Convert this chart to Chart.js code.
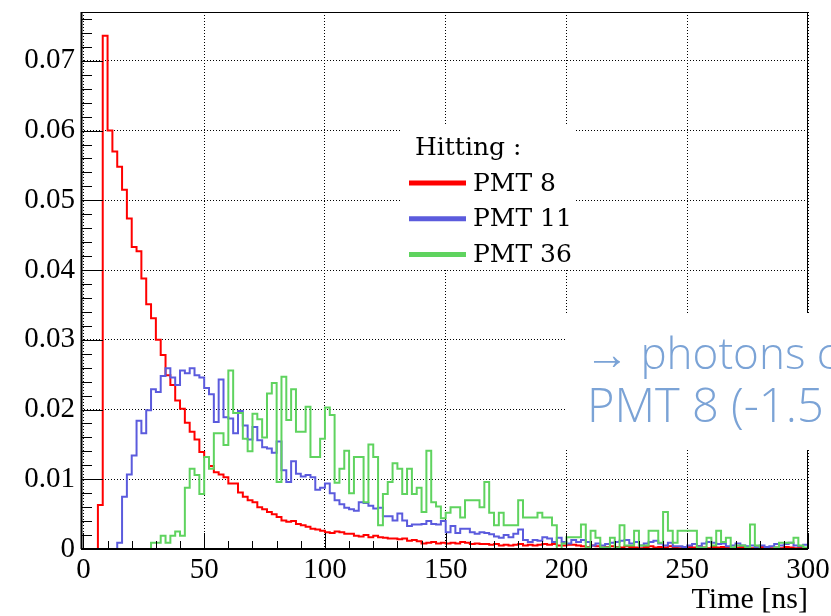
<!DOCTYPE html>
<html>
<head>
<meta charset="utf-8">
<script src="https://cdn.jsdelivr.net/npm/chart.js@4.4.1/dist/chart.umd.min.js"></script>
<style>
    html, body { margin: 0; padding: 0; background: #fff; }
    #wrap { position: relative; width: 831px; height: 616px; }
</style>
</head>
<body>
<div id="wrap"><canvas id="chart"></canvas></div>
<script>
// histogram bins: 2 ns wide, starting at 0 ns
const binWidth = 2;

const pmt8 = [
    0, 0, 0, 0.0063, 0.0736, 0.0600, 0.0570, 0.0548, 0.0515, 0.0474,
    0.0433, 0.0427, 0.0388, 0.0351, 0.0331, 0.0300, 0.0278, 0.0249, 0.0235, 0.0213,
    0.0201, 0.0181, 0.0168, 0.0157, 0.0139, 0.0132, 0.0119, 0.0110, 0.0107, 0.0103,
    0.0094, 0.0094, 0.0081, 0.0075, 0.0070, 0.0067, 0.0060, 0.0057, 0.0053, 0.0050,
    0.0046, 0.0041, 0.0039, 0.0040, 0.0036, 0.0034, 0.0032, 0.0029, 0.0028, 0.0026,
    0.0024, 0.0023, 0.0025, 0.0024, 0.0022, 0.0022, 0.0019, 0.0018, 0.0020, 0.0017,
    0.0019, 0.0017, 0.0016, 0.0015, 0.0015, 0.0014, 0.0015, 0.0012, 0.0013, 0.0011,
    0.0008, 0.0009, 0.0010, 0.0008, 0.0009, 0.0008, 0.0009, 0.0008, 0.0010, 0.0009,
    0.0007, 0.0008, 0.0007, 0.0007, 0.0006, 0.0007, 0.0005, 0.0006, 0.0005, 0.0006,
    0.0007, 0.0005, 0.0006, 0.0005, 0.0006, 0.0007, 0.0006, 0.0007, 0.0005, 0.0005,
    0.0006, 0.0006, 0.0005, 0.0004, 0.0003, 0.0005, 0.0004, 0.0002, 0.0003, 0.0004,
    0.0003, 0.0002, 0.0004, 0.0003, 0.0002, 0.0001, 0.0003, 0.0004, 0.0002, 0.0003,
    0.0002, 0.0004, 0.0003, 0.0001, 0.0002, 0.0003, 0.0002, 0.0004, 0.0002, 0.0001,
    0.0003, 0.0002, 0.0003, 0.0002, 0.0001, 0.0002, 0.0003, 0.0002, 0.0001, 0.0002,
    0.0003, 0.0002, 0.0001, 0.0002, 0.0001, 0.0003, 0.0002, 0.0001, 0.0002, 0.0001
];

const pmt11 = [
    0, 0, 0, 0, 0, 0, 0, 0.0009, 0.0075, 0.0107,
    0.0134, 0.0184, 0.0166, 0.0199, 0.0229, 0.0225, 0.0248, 0.0259, 0.0246, 0.0235,
    0.0256, 0.0252, 0.0259, 0.0249, 0.0246, 0.0231, 0.0222, 0.0182, 0.0243, 0.0189,
    0.0187, 0.0166, 0.0198, 0.0177, 0.0157, 0.0175, 0.0156, 0.0146, 0.0144, 0.0138,
    0.0154, 0.0113, 0.0096, 0.0126, 0.0108, 0.0104, 0.0106, 0.0103, 0.0085, 0.0088,
    0.0094, 0.0080, 0.0070, 0.0064, 0.0059, 0.0057, 0.0055, 0.0067, 0.0066, 0.0062,
    0.0058, 0.0059, 0.0047, 0.0047, 0.0041, 0.0051, 0.0041, 0.0033, 0.0035, 0.0035,
    0.0036, 0.0040, 0.0036, 0.0035, 0.0040, 0.0024, 0.0033, 0.0023, 0.0029, 0.0029,
    0.0024, 0.0022, 0.0024, 0.0023, 0.0021, 0.0018, 0.0016, 0.0020, 0.0017, 0.0022,
    0.0028, 0.0013, 0.0010, 0.0013, 0.0012, 0.0017, 0.0015, 0.0010, 0.0016, 0.0010,
    0.0008, 0.0013, 0.0010, 0.0013, 0.0010, 0.0005, 0.0008, 0.0005, 0.0007, 0.0009,
    0.0010, 0.0012, 0.0013, 0.0008, 0.0010, 0.0005, 0.0008, 0.0010, 0.0012, 0.0008,
    0.0005, 0.0009, 0.0004, 0.0004, 0.0003, 0.0005, 0.0007, 0.0004, 0.0008, 0.0010,
    0.0009, 0.0007, 0.0008, 0.0004, 0.0005, 0.0008, 0.0005, 0.0004, 0.0005, 0.0002,
    0.0005, 0.0003, 0.0004, 0.0007, 0.0005, 0.0007, 0.0009, 0.0005, 0.0004, 0.0006
];

const pmt36 = [
    0, 0, 0, 0, 0, 0, 0, 0, 0, 0,
    0, 0, 0, 0, 0.0009, 0.0009, 0.0019, 0.0009, 0.0019, 0.0025,
    0.0019, 0.0088, 0.0115, 0.0106, 0.0079, 0.0132, 0.0115, 0.0166, 0.0166, 0.0149,
    0.0256, 0.0195, 0.0195, 0.0158, 0.0140, 0.0194, 0.0186, 0.0160, 0.0223, 0.0238,
    0.0096, 0.0247, 0.0185, 0.0229, 0.0168, 0.0168, 0.0204, 0.0132, 0.0132, 0.0158,
    0.0203, 0.0192, 0.0095, 0.0115, 0.0141, 0.0080, 0.0132, 0.0132, 0.0067, 0.0150,
    0.0132, 0.0034, 0.0079, 0.0096, 0.0123, 0.0115, 0.0079, 0.0115, 0.0079, 0.0088,
    0.0053, 0.0141, 0.0067, 0.0061, 0.0044, 0.0052, 0.0060, 0.0060, 0.0045, 0.0070,
    0.0070, 0.0070, 0.0060, 0.0096, 0.0052, 0.0034, 0.0052, 0.0034, 0.0034, 0.0034,
    0.0070, 0.0045, 0.0045, 0.0045, 0.0052, 0.0045, 0.0045, 0.0034, 0, 0.0008,
    0.0017, 0.0017, 0.0017, 0.0035, 0.0002, 0.0026, 0.0016, 0.0002, 0.0002, 0.0016,
    0.0002, 0.0034, 0.0005, 0.0005, 0.0026, 0.0005, 0.0005, 0.0026, 0.0026, 0.0009,
    0.0053, 0.0026, 0.0009, 0.0026, 0.0026, 0.0026, 0.0026, 0.0002, 0.0002, 0.0016,
    0.0005, 0.0026, 0.0010, 0.0016, 0.0002, 0.0005, 0.0005, 0.0002, 0.0035, 0.0005,
    0, 0, 0, 0.0002, 0.0009, 0.0009, 0.0009, 0.0016, 0.0005, 0.0002
];

const seriesNames = ['PMT 8', 'PMT 11', 'PMT 36'];
const seriesColors = ['#ff0000', '#5b5bdd', '#5fd35f'];

const xTicks = [0, 50, 100, 150, 200, 250, 300];
const yTicks = [0, 0.01, 0.02, 0.03, 0.04, 0.05, 0.06, 0.07];
const yTickLabels = ['0', '0.01', '0.02', '0.03', '0.04', '0.05', '0.06', '0.07'];

const legendTitle = 'Hitting :';
const noteLines = ['\u2192 photons close to', 'PMT 8 (-1.5 m)'];

const axisFont = '"Liberation Serif", "Times New Roman", serif';
const legendFont = '"DejaVu Serif", "Liberation Serif", serif';

// bin contents -> step outline points (left edge of each bin + closing edge)
function histPoints(values) {
    const pts = values.map((v, i) => ({ x: i * binWidth, y: v }));
    pts.push({ x: values.length * binWidth, y: values[values.length - 1] });
    return pts;
}

// no extra room for the outer tick labels, the frame is placed by layout padding
function noScalePadding(s) {
    s.paddingTop = 0;
    s.paddingBottom = 0;
    s.paddingLeft = 0;
    s.paddingRight = 0;
}

// ROOT-ish frame: ticks drawn inside the pad, legend and the overlaid note
const rootFrame = {
    id: 'rootFrame',
    afterDraw(chart) {
        const { ctx, chartArea: a, scales: { x, y } } = chart;
        ctx.save();
        ctx.strokeStyle = '#000';
        ctx.lineWidth = 1;

        // y ticks (minor every 0.002)
        for (let k = 0; k * 0.002 <= 0.0771; k++) {
            const py = Math.round(y.getPixelForValue(k * 0.002)) + 0.5;
            const len = (k % 5 === 0) ? 22 : 11;
            ctx.beginPath();
            ctx.moveTo(a.left, py);
            ctx.lineTo(a.left + len, py);
            ctx.stroke();
        }
        // x ticks (minor every 10 ns)
        for (let k = 0; k <= 30; k++) {
            const px = Math.round(x.getPixelForValue(k * 10)) + 0.5;
            const len = (k % 5 === 0) ? 16 : 8;
            ctx.beginPath();
            ctx.moveTo(px, a.bottom);
            ctx.lineTo(px, a.bottom - len);
            ctx.stroke();
        }

        // frame
        ctx.strokeRect(a.left + 0.5, a.top + 0.5, a.right - a.left - 1, a.bottom - a.top);
        ctx.lineWidth = 2;
        ctx.beginPath();
        ctx.moveTo(a.left, a.bottom);
        ctx.lineTo(a.right, a.bottom);
        ctx.moveTo(a.left + 0.5, a.top);
        ctx.lineTo(a.left + 0.5, a.bottom);
        ctx.stroke();

        // legend
        ctx.fillStyle = '#fff';
        ctx.fillRect(400, 124, 176, 146);
        ctx.fillStyle = '#000';
        ctx.font = '25px ' + legendFont;
        ctx.textBaseline = 'middle';
        ctx.textAlign = 'left';
        ctx.fillText(legendTitle, 415, 148);
        chart.data.datasets.forEach((ds, i) => {
            const ly = 183 + i * 35.7;
            ctx.strokeStyle = ds.borderColor;
            ctx.lineWidth = 5;
            ctx.beginPath();
            ctx.moveTo(409, ly);
            ctx.lineTo(466, ly);
            ctx.stroke();
            ctx.fillStyle = '#000';
            ctx.fillText(ds.label, 473, ly + 1);
        });

        // overlaid note box (cut at the right edge)
        ctx.fillStyle = '#fff';
        ctx.fillRect(566, 313, 265, 137);
        ctx.fillStyle = '#7ba3d6';
        ctx.textBaseline = 'alphabetic';
        ctx.font = '300 44px "Open Sans", "Noto Sans", sans-serif';
        ctx.fillText(noteLines[0], 585, 369);
        ctx.font = '300 47px "Open Sans", "Noto Sans", sans-serif';
        ctx.fillText(noteLines[1], 587, 422);

        ctx.restore();
    }
};

const ctx = document.getElementById('chart');

new Chart(ctx, {
    type: 'line',
    data: {
        datasets: [
            { label: seriesNames[0], data: histPoints(pmt8), borderColor: seriesColors[0], order: 3 },
            { label: seriesNames[1], data: histPoints(pmt11), borderColor: seriesColors[1], order: 2 },
            { label: seriesNames[2], data: histPoints(pmt36), borderColor: seriesColors[2], order: 1 }
        ]
    },
    options: {
        responsive: true,
        maintainAspectRatio: false,
        animation: false,
        datasets: {
            line: {
                stepped: 'before',
                borderWidth: 2,
                pointRadius: 0,
                fill: false,
                borderJoinStyle: 'miter'
            }
        },
        layout: {
            padding: {
                left: 0,
                right: 23,
                top: 12,
                bottom: 0
            }
        },
        plugins: {
            legend: { display: false },
            tooltip: { enabled: false }
        },
        scales: {
            x: {
                type: 'linear',
                min: -1,
                max: 300,
                afterBuildTicks: s => { s.ticks = xTicks.map(v => ({ value: v })); },
                afterFit: s => { s.height = 67; noScalePadding(s); },
                grid: { color: '#000', lineWidth: 1, drawTicks: false },
                border: { display: false, dash: [1, 2] },
                ticks: {
                    color: '#000',
                    font: { family: axisFont, size: 29 },
                    maxRotation: 0,
                    autoSkip: false,
                    padding: 4,
                    callback: v => String(v)
                },
                title: {
                    display: true,
                    text: 'Time [ns]',
                    align: 'end',
                    color: '#000',
                    font: { family: axisFont, size: 30 },
                    padding: { top: 0, bottom: -2 }
                }
            },
            y: {
                min: 0,
                max: 0.077,
                afterBuildTicks: s => { s.ticks = yTicks.map(v => ({ value: v })); },
                afterFit: s => { s.width = 81; noScalePadding(s); },
                grid: { color: '#000', lineWidth: 1, drawTicks: false },
                border: { display: false, dash: [1, 2] },
                ticks: {
                    color: '#000',
                    font: { family: axisFont, size: 29 },
                    padding: 6,
                    callback: (v, i) => yTickLabels[i]
                }
            }
        }
    },
    plugins: [rootFrame]
});
</script>
</body>
</html>
